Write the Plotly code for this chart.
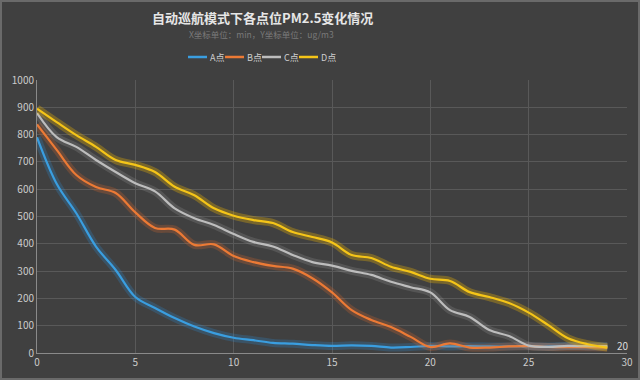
import plotly.graph_objects as go

minutes = list(range(30))
series_names = ["A点", "B点", "C点", "D点"]
a_vals = [790, 620, 512, 390, 304, 205, 165, 128, 97, 73, 56, 47, 37, 34, 29, 26, 28, 26, 20, 22, 26, 24, 25, 24, 24, 25, 24, 25, 24, 24]
b_vals = [837, 744, 652, 608, 586, 515, 458, 452, 396, 398, 355, 333, 319, 309, 274, 222, 157, 121, 95, 59, 22, 35, 20, 20, 24, 25, 22, 21, 21, 20]
c_vals = [879, 791, 755, 707, 663, 622, 592, 530, 494, 469, 436, 407, 390, 359, 333, 320, 301, 286, 261, 241, 222, 157, 132, 84, 62, 27, 22, 26, 25, 25]
d_vals = [895, 846, 798, 755, 707, 689, 663, 609, 578, 530, 503, 487, 476, 443, 425, 405, 359, 348, 316, 297, 272, 264, 223, 205, 183, 148, 102, 54, 32, 20]
end_label = "20"

colors = ["#3a9ee0", "#ec7a35", "#bdbdbd", "#f5c518"]
glows = ["rgba(40,150,230,0.22)", "rgba(240,110,40,0.22)", "rgba(200,200,200,0.16)", "rgba(250,190,0,0.30)"]

fig = go.Figure()
all_vals = [a_vals, b_vals, c_vals, d_vals]
for name, vals, col, glow in zip(series_names, all_vals, colors, glows):
    fig.add_trace(go.Scatter(x=minutes, y=vals, mode="lines", showlegend=False, hoverinfo="skip",
                             line=dict(color=glow, width=8, shape="spline", smoothing=1.0)))
    fig.add_trace(go.Scatter(x=minutes, y=vals, mode="lines", name=name, showlegend=False,
                             line=dict(color=col, width=2.2, shape="spline", smoothing=1.0)))

fig.add_annotation(x=minutes[-1], y=d_vals[-1], text=end_label, showarrow=False,
                   xanchor="left", xshift=8, yshift=2, font=dict(color="#dddddd", size=10))

L, R, T, B = 37, 627, 80, 353
W, H = R - L, B - T

def px(x):
    return (x - L) / W

def py(y):
    return (B - y) / H

# image frame
fig.add_shape(type="rect", xref="paper", yref="paper", x0=px(1), x1=px(639), y0=py(379), y1=py(1),
              line=dict(color="#6a6a6a", width=2), layer="below")

# manual legend
leg_x = [188, 225, 262, 299]
for name, col, lx in zip(series_names, colors, leg_x):
    fig.add_shape(type="line", xref="paper", yref="paper",
                  x0=px(lx), x1=px(lx + 19), y0=py(57), y1=py(57),
                  line=dict(color=col, width=2.5))
    fig.add_annotation(xref="paper", yref="paper", x=px(lx + 20), y=py(57),
                       text=name, showarrow=False, xanchor="left", yanchor="middle",
                       font=dict(color="#cfcfcf", size=9))

fig.add_annotation(xref="paper", yref="paper", x=px(262), y=py(18),
                   text="<b>自动巡航模式下各点位PM2.5变化情况</b>", showarrow=False, yanchor="middle",
                   font=dict(color="#e6e6e6", size=13, family="Noto Sans CJK SC"))
fig.add_annotation(xref="paper", yref="paper", x=px(261), y=py(34),
                   text="X坐标单位：min，Y坐标单位：ug/m3", showarrow=False, yanchor="middle",
                   font=dict(color="#7a7a7a", size=8.5, family="Noto Sans CJK SC"))

fig.update_layout(
    template="none",
    width=640, height=380,
    margin=dict(l=L, r=640 - R, t=T, b=380 - B, autoexpand=False),
    paper_bgcolor="#404040", plot_bgcolor="#404040",
    font=dict(family="Noto Sans CJK SC, Noto Sans, sans-serif", color="#cccccc", size=10),
)
fig.update_xaxes(range=[0, 30], dtick=5, tick0=0, showgrid=True, gridcolor="#595959", gridwidth=1,
                 zeroline=False, showline=True, linecolor="#8a8a8a", linewidth=1, automargin=False,
                 tickfont=dict(color="#cccccc", size=10), ticks="", ticklen=0, ticklabeloverflow="allow")
fig.update_yaxes(range=[0, 1000], dtick=100, tick0=0, showgrid=True, gridcolor="#595959", gridwidth=1,
                 zeroline=False, showline=True, linecolor="#8a8a8a", linewidth=1, automargin=False,
                 tickfont=dict(color="#cccccc", size=10), ticks="", ticklen=0, ticklabeloverflow="allow")

fig.write_html("out.html", config={"displayModeBar": False},
               post_script="document.body.style.margin='0';document.body.style.overflow='hidden';document.body.style.background='#404040';")
